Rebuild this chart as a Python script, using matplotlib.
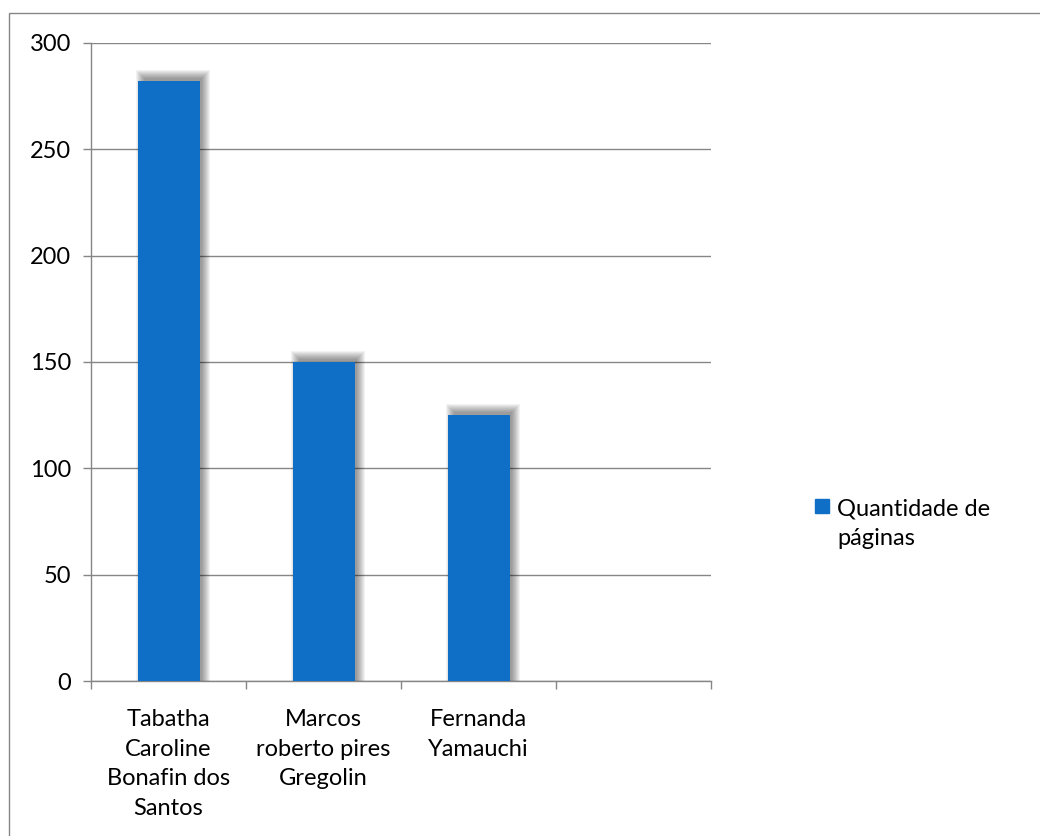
import matplotlib
matplotlib.use("Agg")
import matplotlib.pyplot as plt
from matplotlib.patches import Rectangle
import numpy as np

categories = ["Tabatha\nCaroline\nBonafin dos\nSantos", "Marcos\nroberto pires\nGregolin", "Fernanda\nYamauchi", ""]
values = [282, 150, 125, None]
series_name = "Quantidade de\npáginas"
yticks = [0, 50, 100, 150, 200, 250, 300]

plt.rcParams['font.family'] = ['Lato', 'DejaVu Sans']

W, H = 1040, 836
fig = plt.figure(figsize=(W / 100, H / 100), dpi=100)
ax = fig.add_axes([91 / W, (H - 681) / H, (711 - 91) / W, (681 - 43) / H])

bar_color = "#0F6FC6"
x = np.arange(len(categories))
vals = np.array([v if v is not None else np.nan for v in values], dtype=float)
mask = ~np.isnan(vals)
width = 0.4

px_x = (len(categories)) / (711 - 91)
px_y = 300 / (681 - 43)

# soft drop shadow (offset right/up, blurred)
for g in range(8, -1, -1):
    ax.bar(x[mask] + 4 * px_x, vals[mask] + (3 + g) * px_y,
           width=width + 2 * g * px_x - 4 * px_x, color="#000000",
           alpha=0.05, linewidth=0, zorder=2)

ax.bar(x[mask], vals[mask], width=width, color=bar_color, linewidth=0, zorder=3,
       label=series_name)

ax.set_xlim(-0.5, len(categories) - 0.5)
ax.set_ylim(0, 300)
ax.set_yticks(yticks)
ax.set_yticklabels([str(t) for t in yticks], fontsize=17)
ax.yaxis.grid(True, color="#868686", linewidth=1)
ax.set_axisbelow(True)

ax.set_xticks(x)
ax.set_xticklabels(categories, fontsize=17, linespacing=1.52, va="top")
ax.set_xticks(np.arange(-0.5, len(categories), 1.0), minor=True)
ax.tick_params(axis="x", which="major", length=0, pad=20)
ax.tick_params(axis="x", which="minor", length=5.5, color="#868686", width=1)
ax.tick_params(axis="y", which="major", length=6, color="#868686", width=1, pad=8.5)

for s in ["top", "right"]:
    ax.spines[s].set_visible(False)
for s in ["left", "bottom"]:
    ax.spines[s].set_color("#868686")
    ax.spines[s].set_linewidth(1)

# legend (square aligned with first line of the label)
fig.patches.append(Rectangle((815 / W, (H - 513) / H), 14 / W, 14 / H,
                             transform=fig.transFigure, color=bar_color))
fig.text(837 / W, (H - 545) / H, series_name, fontsize=17, va="baseline",
         ha="left", linespacing=1.48, multialignment="left")

# chart area border
fig.patches.append(Rectangle((8.5 / W, -10 / H), (W + 20) / W, (H - 12.5 + 10) / H,
                             transform=fig.transFigure, fill=False,
                             edgecolor="#868686", linewidth=1))

fig.savefig("out.png", dpi=100)
